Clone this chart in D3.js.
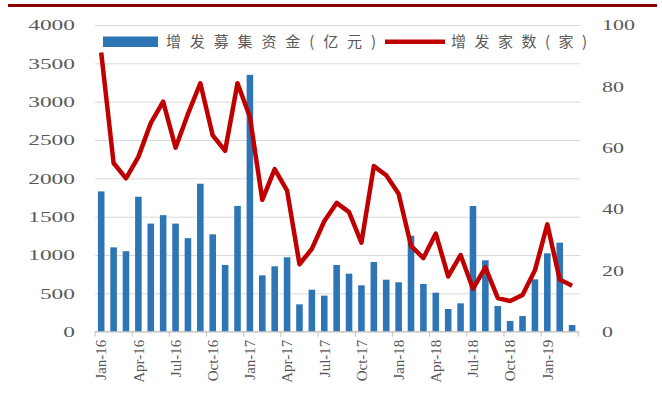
<!DOCTYPE html>
<html>
<head>
<meta charset="utf-8">
<script src="https://cdn.jsdelivr.net/npm/d3@7"></script>
<style>
  body { margin: 0; background: #fff; }
  svg { display: block; }
</style>
</head>
<body>
<svg width="662" height="410"></svg>
<script>
// monthly data, Jan-16 .. Mar-19
var months = [
  "Jan-16","Feb-16","Mar-16","Apr-16","May-16","Jun-16","Jul-16","Aug-16","Sep-16","Oct-16","Nov-16","Dec-16",
  "Jan-17","Feb-17","Mar-17","Apr-17","May-17","Jun-17","Jul-17","Aug-17","Sep-17","Oct-17","Nov-17","Dec-17",
  "Jan-18","Feb-18","Mar-18","Apr-18","May-18","Jun-18","Jul-18","Aug-18","Sep-18","Oct-18","Nov-18","Dec-18",
  "Jan-19","Feb-19","Mar-19"
];
// 增发募集资金(亿元)
var raised = [
  1830,1100,1050,1760,1410,1520,1410,1220,1930,1270,870,1640,
  3350,735,853,970,357,548,470,870,757,605,909,678,
  644,1252,622,509,296,370,1639,931,335,139,204,683,
  1022,1161,87
];
// 增发家数(家)
var counts = [
  91,55,50,57,68,75,60,71,81,64,59,81,
  70,43,53,46,22,27,36,42,39,29,54,51,
  45,28,24,32,18,25,14,21,11,10,12,20,
  35,17,15
];
var leftTicks = [0,500,1000,1500,2000,2500,3000,3500,4000];
var rightTicks = [0,20,40,60,80,100];
var labelMonths = ["Jan-16","Apr-16","Jul-16","Oct-16","Jan-17","Apr-17","Jul-17","Oct-17","Jan-18","Apr-18","Jul-18","Oct-18","Jan-19"];
var legendNames = ["增发募集资金(亿元)", "增发家数(家)"];

var svg = d3.select("svg");
var plotLeft = 95, plotRight = 578.3, plotTop = 25, plotBottom = 331.7;
var serif = "'Liberation Serif','Times New Roman',serif";
var textColor = "#595959";

// top decoration line
svg.append("line")
  .attr("x1", 8).attr("x2", 657).attr("y1", 5.5).attr("y2", 5.5)
  .attr("stroke", "#8B0000").attr("stroke-width", 3);

var x = d3.scaleBand().domain(months).range([plotLeft, plotRight])
  .paddingInner(0.47).paddingOuter(0.235);
var yL = d3.scaleLinear().domain([0, 4000]).range([plotBottom, plotTop]);
var yR = d3.scaleLinear().domain([0, 100]).range([plotBottom, plotTop]);

// left axis + gridlines
var gl = svg.append("g")
  .attr("transform", "translate(" + plotLeft + ",0)")
  .call(d3.axisLeft(yL).tickValues(leftTicks).tickFormat(d3.format("d"))
    .tickSize(-(580 - plotLeft)).tickPadding(20));
gl.select(".domain").remove();
gl.selectAll(".tick line").attr("stroke", "#d9d9d9").attr("stroke-width", 1);
gl.selectAll(".tick text")
  .attr("fill", textColor).style("font-family", serif).style("font-size", "15px")
  .attr("textLength", function(d) { return String(d).length * 11.7; })
  .attr("lengthAdjust", "spacingAndGlyphs");

// right axis
var gr = svg.append("g")
  .attr("transform", "translate(580,0)")
  .call(d3.axisRight(yR).tickValues(rightTicks).tickFormat(d3.format("d"))
    .tickSize(0).tickPadding(22));
gr.select(".domain").remove();
gr.selectAll(".tick text")
  .attr("fill", textColor).style("font-family", serif).style("font-size", "15px")
  .attr("textLength", function(d) { return String(d).length * 11; })
  .attr("lengthAdjust", "spacingAndGlyphs");

// bars
svg.append("g").selectAll("rect")
  .data(months)
  .enter().append("rect")
  .attr("x", function(d) { return x(d); })
  .attr("width", x.bandwidth())
  .attr("y", function(d, i) { return yL(raised[i]); })
  .attr("height", function(d, i) { return plotBottom - yL(raised[i]); })
  .attr("fill", "#2E75B6");

// bottom axis line and quarter ticks
var gx = svg.append("g");
gx.append("line")
  .attr("x1", plotLeft).attr("x2", plotRight).attr("y1", plotBottom).attr("y2", plotBottom)
  .attr("stroke", "#bfbfbf");
gx.selectAll(".qtick")
  .data(months.filter(function(d, i) { return i % 3 == 0; }).concat(["end"]))
  .enter().append("line")
  .attr("x1", function(d) { return d == "end" ? plotRight : x(d) - x.step() * x.paddingOuter(); })
  .attr("x2", function(d) { return d == "end" ? plotRight : x(d) - x.step() * x.paddingOuter(); })
  .attr("y1", plotBottom).attr("y2", plotBottom + 5)
  .attr("stroke", "#bfbfbf");
gx.selectAll(".xlab")
  .data(labelMonths)
  .enter().append("text")
  .attr("transform", function(d) {
    return "translate(" + (x(d) + x.bandwidth() / 2) + "," + (plotBottom + 8) + ") rotate(-90)";
  })
  .attr("text-anchor", "end")
  .attr("dy", "0.35em")
  .attr("fill", textColor)
  .style("font-family", serif).style("font-size", "15px")
  .text(function(d) { return d; });

// line series
var line = d3.line()
  .x(function(d, i) { return x(months[i]) + x.bandwidth() / 2; })
  .y(function(d) { return yR(d); });
svg.append("path")
  .datum(counts)
  .attr("d", line)
  .attr("fill", "none")
  .attr("stroke", "#C00000")
  .attr("stroke-width", 4.5)
  .attr("stroke-linejoin", "round");

// legend
var lg = svg.append("g");
lg.append("rect").attr("x", 103).attr("y", 36.5).attr("width", 55).attr("height", 10.5).attr("fill", "#2E75B6");
lg.append("text").attr("x", 166).attr("y", 42).attr("dy", "0.35em")
  .attr("textLength", 210).attr("lengthAdjust", "spacing")
  .attr("fill", textColor)
  .style("font-family", "'Noto Sans CJK SC', sans-serif").style("font-size", "15px")
  .text(legendNames[0]);
lg.append("line").attr("x1", 385).attr("x2", 445).attr("y1", 41.7).attr("y2", 41.7)
  .attr("stroke", "#C00000").attr("stroke-width", 4.5);
lg.append("text").attr("x", 451).attr("y", 42).attr("dy", "0.35em")
  .attr("textLength", 136).attr("lengthAdjust", "spacing")
  .attr("fill", textColor)
  .style("font-family", "'Noto Sans CJK SC', sans-serif").style("font-size", "15px")
  .text(legendNames[1]);
</script>
</body>
</html>
